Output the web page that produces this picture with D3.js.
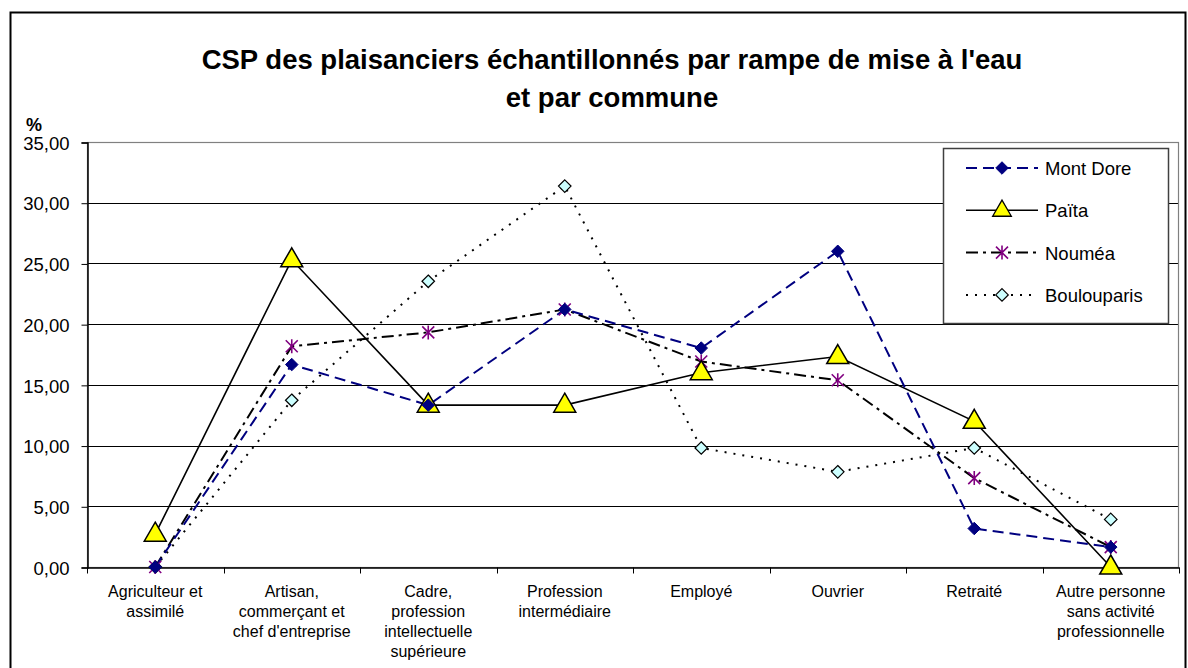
<!DOCTYPE html>
<html><head><meta charset="utf-8">
<script src="https://cdn.jsdelivr.net/npm/d3@7"></script>
<style>
body{margin:0;background:#fff;}
svg{display:block;font-family:"Liberation Sans",Arial,sans-serif;}
</style></head>
<body><svg id="chart" width="1188" height="668"></svg>
<script>
const categories = [
  ["Agriculteur et","assimilé"],
  ["Artisan,","commerçant et","chef d'entreprise"],
  ["Cadre,","profession","intellectuelle","supérieure"],
  ["Profession","intermédiaire"],
  ["Employé"],
  ["Ouvrier"],
  ["Retraité"],
  ["Autre personne","sans activité","professionnelle"]
];
const montDore    = [0.00, 16.67, 13.33, 21.21, 18.03, 26.00, 3.17, 1.64];
const paita       = [2.70, 25.30, 13.33, 13.33, 16.00, 17.33, 12.00, 0.00];
const noumea      = [0.00, 18.18, 19.32, 21.21, 16.92, 15.38, 7.32, 1.64];
const boulouparis = [0.00, 13.73, 23.53, 31.37, 9.80, 7.84, 9.80, 3.92];
const yTicks = [0,5,10,15,20,25,30,35];

const svg = d3.select("#chart");
const m = {left:87, right:1179, top:142, bottom:567};

// outer chart frame
svg.append("rect").attr("x",10.5).attr("y",12.5).attr("width",1175).attr("height",680)
  .attr("fill","none").attr("stroke","#000").attr("stroke-width",2);

const x = d3.scaleBand().domain(d3.range(categories.length)).range([m.left,m.right]);
const y = d3.scaleLinear().domain([0,35]).range([m.bottom,m.top]);
const cx = i => x(i) + x.bandwidth()/2;

// horizontal gridlines
svg.append("g").selectAll("line").data(yTicks.filter(t=>t>0 && t<35)).join("line")
  .attr("x1",m.left).attr("x2",m.right).attr("y1",d=>Math.round(y(d))+0.5).attr("y2",d=>Math.round(y(d))+0.5)
  .attr("stroke","#000").attr("stroke-width",1);

// plot area border
svg.append("rect").attr("x",m.left+0.5).attr("y",m.top+0.5).attr("width",m.right-m.left-1).attr("height",m.bottom-m.top)
  .attr("fill","none").attr("stroke","#808080").attr("stroke-width",1.2);

// y axis
const fmt = d => d3.format(".2f")(d).replace(".",",");
const yAxis = d3.axisLeft(y).tickValues(yTicks).tickFormat(fmt).tickSize(6).tickPadding(12);
const gy = svg.append("g").attr("transform",`translate(${m.left+0.5},0.5)`).call(yAxis);
gy.select(".domain").attr("stroke","#000").attr("stroke-width",1.5);
gy.selectAll(".tick line").attr("stroke","#000");
gy.selectAll("text").attr("font-size",18.5).attr("fill","#000").attr("dy","0.36em")
  .attr("font-family","Liberation Sans, Arial, sans-serif");

// x axis
const xAxis = d3.axisBottom(x).tickValues([]).tickSize(0);
const gx = svg.append("g").attr("transform",`translate(0,${m.bottom+0.5})`).call(xAxis);
gx.select(".domain").attr("stroke","#000").attr("stroke-width",1.5);
gx.selectAll("line.sep").data(d3.range(categories.length+1)).join("line").attr("class","sep")
  .attr("x1",i=>Math.round(m.left + i*x.bandwidth())+0.5).attr("x2",i=>Math.round(m.left + i*x.bandwidth())+0.5)
  .attr("y1",0).attr("y2",6).attr("stroke","#000");
const xl = svg.append("g");
categories.forEach((lines,i)=>{
  const t = xl.append("text").attr("x",cx(i)).attr("y",597).attr("text-anchor","middle")
    .attr("font-size",16).attr("fill","#000");
  lines.forEach((s,k)=>t.append("tspan").attr("x",cx(i)).attr("dy",k?20:0).text(s));
});

// title
const title = svg.append("text").attr("x",612).attr("text-anchor","middle")
  .attr("font-size",27.5).attr("font-weight","bold").attr("fill","#000");
title.append("tspan").attr("x",612).attr("y",69).text("CSP des plaisanciers échantillonnés par rampe de mise à l'eau");
title.append("tspan").attr("x",612).attr("y",107).text("et par commune");
svg.append("text").attr("x",26).attr("y",131).attr("font-size",18).attr("font-weight","bold").text("%");

// marker drawers
const markers = {
  diamondNavy: (g,s=1)=> g.append("path").attr("d",d3.symbol(d3.symbolDiamond2,100*s)()).attr("fill","#000080").attr("stroke","#000080").attr("stroke-width",1),
  triangle: (g,s=1)=> g.append("path").attr("d","M0,-12 L11,7 L-11,7 Z").attr("transform",`scale(${s})`).attr("fill","#ffff00").attr("stroke","#000").attr("stroke-width",1.5),
  asterisk: (g,s=1)=> g.append("path").attr("d","M-6,-6L6,6M-6,6L6,-6M0,-7L0,7").attr("transform",`scale(${s})`).attr("fill","none").attr("stroke","#800080").attr("stroke-width",1.6),
  diamondCyan: (g,s=1)=> g.append("path").attr("d",d3.symbol(d3.symbolDiamond2,100*s)()).attr("fill","#ccffff").attr("stroke","#000").attr("stroke-width",1.2)
};

const series = [
  {name:"Mont Dore", values:montDore, color:"#000080", width:2, dash:"11,6", marker:"diamondNavy"},
  {name:"Païta", values:paita, color:"#000", width:1.6, dash:null, marker:"triangle"},
  {name:"Nouméa", values:noumea, color:"#000", width:2, dash:"12,5,3,5", marker:"asterisk"},
  {name:"Boulouparis", values:boulouparis, color:"#000", width:2, dash:"2,7", marker:"diamondCyan"}
];

const line = d3.line().x((d,i)=>cx(i)).y(d=>y(d));
// lines drawn in reverse so Mont Dore sits on top
[...series].reverse().forEach(s=>{
  svg.append("path").datum(s.values).attr("d",line).attr("fill","none")
    .attr("stroke",s.color).attr("stroke-width",s.width).attr("stroke-dasharray",s.dash);
});
[...series].reverse().forEach(s=>{
  s.values.forEach((v,i)=>{
    const g = svg.append("g").attr("transform",`translate(${cx(i)},${y(v)})`);
    markers[s.marker](g);
  });
});

// legend
const lg = svg.append("g");
lg.append("rect").attr("x",943.5).attr("y",148.5).attr("width",225).attr("height",175)
  .attr("fill","#fff").attr("stroke","#404040").attr("stroke-width",1.5);
series.forEach((s,k)=>{
  const yy = 168 + k*42.3;
  lg.append("line").attr("x1",966).attr("x2",1038).attr("y1",yy).attr("y2",yy)
    .attr("stroke",s.color).attr("stroke-width",s.width).attr("stroke-dasharray",s.dash);
  const g = lg.append("g").attr("transform",`translate(1002,${yy})`);
  markers[s.marker](g, s.marker==="triangle"?0.85:1);
  lg.append("text").attr("x",1045).attr("y",yy+7).attr("font-size",18.5).attr("fill","#000").text(s.name);
});
</script></body></html>
